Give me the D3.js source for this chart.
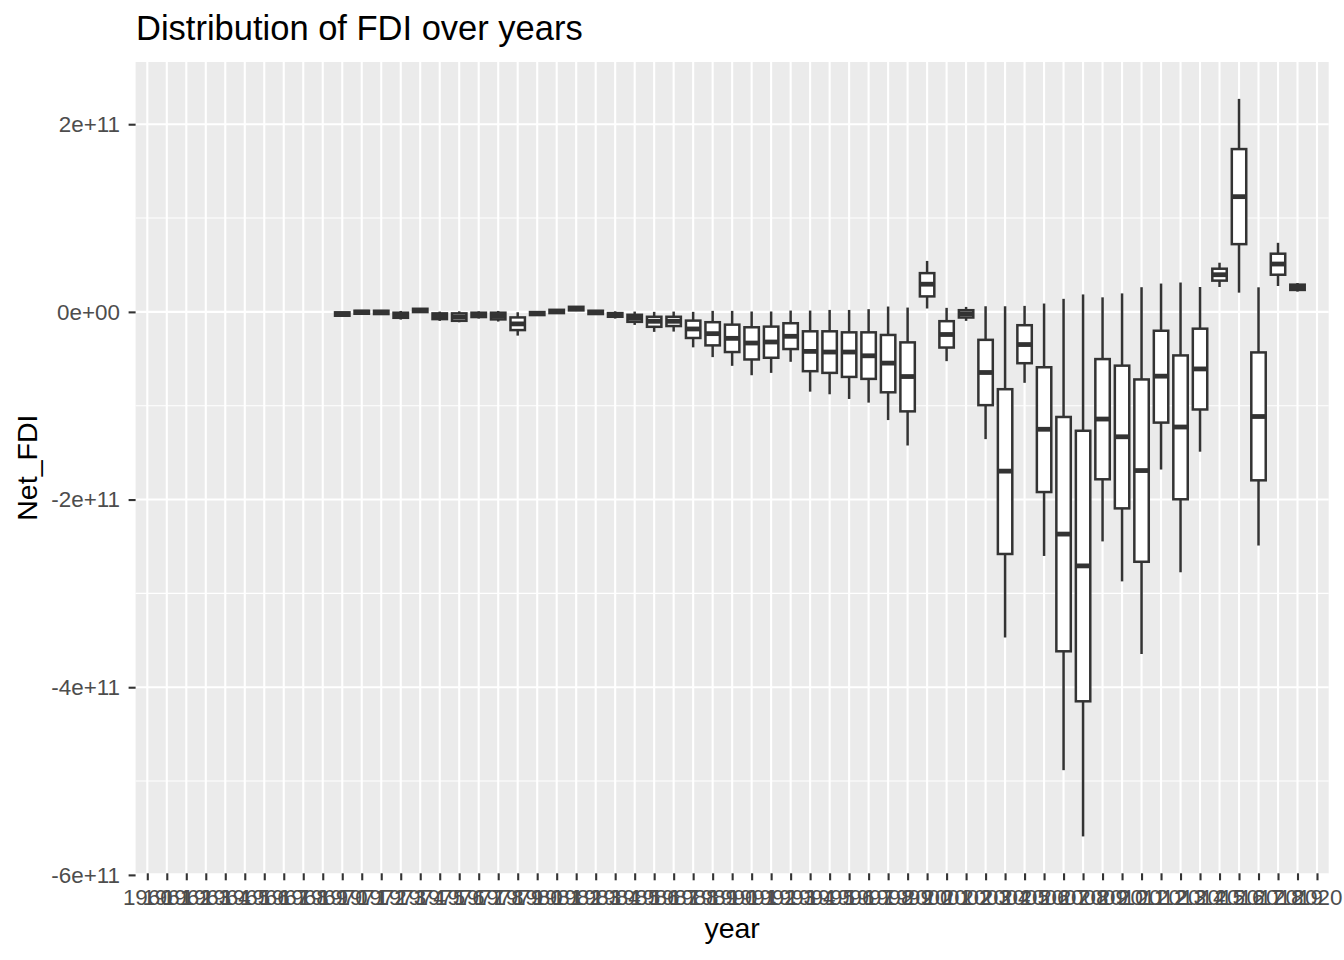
<!DOCTYPE html>
<html>

<head>
    <meta charset="utf-8">
    <style>
        body {
            margin: 0;
            background: #ffffff;
        }

        svg {
            display: block;
            font-family: 'Liberation Sans', Arial, sans-serif;
        }

        .tick text {
            font-size: 22.4px;
            fill: #4d4d4d;
        }

        .tick line {
            stroke: #333333;
            stroke-width: 2.1px;
        }

        .domain {
            display: none;
        }
    </style>
</head>

<body>
    <svg width="1344" height="960"></svg>

    <script src="https://d3js.org/d3.v7.min.js"></script>
    <script>
        // every year on the x axis (discrete)
        let years = ["1960", "1961", "1962", "1963", "1964", "1965", "1966", "1967", "1968", "1969",
            "1970", "1971", "1972", "1973", "1974", "1975", "1976", "1977", "1978", "1979",
            "1980", "1981", "1982", "1983", "1984", "1985", "1986", "1987", "1988", "1989",
            "1990", "1991", "1992", "1993", "1994", "1995", "1996", "1997", "1998", "1999",
            "2000", "2001", "2002", "2003", "2004", "2005", "2006", "2007", "2008", "2009",
            "2010", "2011", "2012", "2013", "2014", "2015", "2016", "2017", "2018", "2019", "2020"]

        // years that have a box, and the box stats in billions (1e9)
        let boxYears = ["1970", "1971", "1972", "1973", "1974", "1975", "1976", "1977", "1978", "1979",
            "1980", "1981", "1982", "1983", "1984", "1985", "1986", "1987", "1988", "1989",
            "1990", "1991", "1992", "1993", "1994", "1995", "1996", "1997", "1998", "1999",
            "2000", "2001", "2002", "2003", "2004", "2005", "2006", "2007", "2008", "2009",
            "2010", "2011", "2012", "2013", "2014", "2015", "2016", "2017", "2018", "2019"]

        let lowWhisker = [-4.3, -2.3, -2.5, -8.2, -0.5, -9.6, -11.1, -7.1, -10.3, -25.3,
            -3.6, -1.5, 1.4, -2.5, -7.1, -13.9, -21.3, -21.0, -37.8, -48.2,
            -57.5, -67.5, -65.0, -53.2, -85.0, -87.8, -92.8, -96.7, -115.3, -142.4,
            3.6, -52.5, -9.6, -135.6, -347.0, -75.6, -260.1, -488.4, -559.0, -244.6,
            -287.2, -364.6, -168.0, -277.5, -149.0, 26.5, 20.5, -249.0, 27.6, 21.6]

        let lowerQuartile = [-4.1, -2.0, -2.3, -6.3, -0.2, -7.7, -9.5, -5.5, -8.0, -19.4,
            -3.4, -1.3, 1.6, -2.3, -5.2, -10.6, -15.9, -15.1, -27.8, -35.7,
            -42.8, -50.7, -48.9, -39.6, -63.2, -65.0, -69.3, -71.4, -85.7, -106.0,
            16.5, -38.0, -6.0, -99.4, -258.0, -54.7, -192.0, -361.7, -415.0, -178.4,
            -209.4, -266.3, -118.0, -199.7, -104.0, 33.3, 72.2, -179.5, 39.6, 23.4]

        let medians = [-2.3, -0.4, -0.5, -3.6, 1.5, -4.6, -5.5, -3.2, -4.5, -12.8,
            -1.8, 0.5, 3.5, -0.5, -3.3, -6.8, -10.0, -10.0, -18.2, -23.2,
            -28.2, -33.2, -32.1, -26.0, -42.1, -42.8, -42.8, -46.8, -54.6, -68.9,
            29.5, -24.1, -2.1, -64.6, -169.7, -34.8, -125.1, -236.8, -270.7, -114.2,
            -133.1, -169.1, -68.5, -122.7, -60.8, 39.6, 122.8, -111.5, 51.0, 26.2]

        let upperQuartile = [-0.5, 1.2, 1.2, -0.9, 3.3, -1.6, -1.6, -0.9, -0.9, -5.9,
            -0.2, 2.2, 5.4, 1.2, -1.3, -3.1, -5.2, -5.2, -9.3, -11.0,
            -13.6, -16.4, -15.7, -12.1, -20.7, -20.7, -21.8, -21.8, -24.6, -32.5,
            41.3, -9.9, 1.8, -29.8, -82.4, -14.2, -59.0, -112.0, -126.7, -50.3,
            -57.3, -72.0, -20.1, -46.4, -17.9, 46.0, 173.5, -43.2, 62.0, 29.0]

        let highWhisker = [-0.3, 1.5, 1.4, 1.0, 3.6, 0.3, 0.6, 0.6, 1.0, -0.4,
            0.0, 2.4, 5.6, 1.4, 0.6, 0.3, 0.0, 0.3, 0.0, 1.1,
            1.1, 0.4, 0.4, 1.4, 1.4, 2.1, 2.1, 2.9, 5.7, 4.6,
            54.3, 4.3, 5.3, 6.0, 6.0, 6.4, 8.9, 13.9, 18.6, 15.5,
            19.7, 26.3, 30.2, 31.3, 26.5, 52.4, 227.0, 26.2, 73.6, 30.8]

        let yMajorTicks = [2e11, 0, -2e11, -4e11, -6e11]
        let yMinorTicks = [1e11, -1e11, -3e11, -5e11]

        let svg = d3.select("svg")

        let margin = { top: 62, right: 15.3, bottom: 86.7, left: 135.6 }
        let width = 1344
        let height = 960

        let boxes = boxYears.map(function (yr, i) {
            return {
                year: yr,
                lo: lowWhisker[i] * 1e9,
                q1: lowerQuartile[i] * 1e9,
                med: medians[i] * 1e9,
                q3: upperQuartile[i] * 1e9,
                hi: highWhisker[i] * 1e9
            }
        })

        let x = d3.scalePoint()
            .domain(years)
            .range([margin.left, width - margin.right])
            .padding(0.6)

        // ggplot style 5% expansion on the data range
        let yMin = d3.min(boxes, d => d.lo)
        let yMax = d3.max(boxes, d => d.hi)
        let pad = (yMax - yMin) * 0.05

        let y = d3.scaleLinear()
            .domain([yMin - pad, yMax + pad])
            .range([height - margin.bottom, margin.top])

        // panel
        svg.append("rect")
            .attr("x", margin.left)
            .attr("y", margin.top)
            .attr("width", width - margin.right - margin.left)
            .attr("height", height - margin.bottom - margin.top)
            .style("fill", "#ebebeb")

        let grid = svg.append("g")

        grid.selectAll(".minor")
            .data(yMinorTicks)
            .join("line")
            .attr("x1", margin.left)
            .attr("x2", width - margin.right)
            .attr("y1", d => y(d))
            .attr("y2", d => y(d))
            .style("stroke", "#ffffff")
            .style("stroke-width", "1.1px")

        grid.selectAll(".major")
            .data(yMajorTicks)
            .join("line")
            .attr("x1", margin.left)
            .attr("x2", width - margin.right)
            .attr("y1", d => y(d))
            .attr("y2", d => y(d))
            .style("stroke", "#ffffff")
            .style("stroke-width", "2.1px")

        grid.selectAll(".vert")
            .data(years)
            .join("line")
            .attr("x1", d => x(d))
            .attr("x2", d => x(d))
            .attr("y1", margin.top)
            .attr("y2", height - margin.bottom)
            .style("stroke", "#ffffff")
            .style("stroke-width", "2.1px")

        // axes
        let xAxisSettings = d3.axisBottom(x)
            .tickSize(7)
            .tickPadding(9)

        svg.append("g")
            .attr("class", "x axis")
            .attr("transform", `translate(0,${height - margin.bottom})`)
            .call(xAxisSettings)

        let yAxisSettings = d3.axisLeft(y)
            .tickValues(yMajorTicks)
            .tickSize(7)
            .tickPadding(8.6)
            .tickFormat(function (d) {
                if (d == 0) return "0e+00"
                let s = d3.format(".0e")(Math.abs(d))
                return (d < 0 ? "-" : "") + s
            })

        svg.append("g")
            .attr("class", "y axis")
            .attr("transform", `translate(${margin.left},0)`)
            .call(yAxisSettings)

        // boxplots
        let bw = x.step() * 0.74
        let boxG = svg.append("g")
            .selectAll("g")
            .data(boxes)
            .join("g")

        boxG.append("line")
            .attr("x1", d => x(d.year))
            .attr("x2", d => x(d.year))
            .attr("y1", d => y(d.q3))
            .attr("y2", d => y(d.hi))
            .style("stroke", "#333333")
            .style("stroke-width", "2.5px")

        boxG.append("line")
            .attr("x1", d => x(d.year))
            .attr("x2", d => x(d.year))
            .attr("y1", d => y(d.q1))
            .attr("y2", d => y(d.lo))
            .style("stroke", "#333333")
            .style("stroke-width", "2.5px")

        boxG.append("rect")
            .attr("x", d => x(d.year) - bw / 2)
            .attr("y", d => y(d.q3))
            .attr("width", bw)
            .attr("height", d => y(d.q1) - y(d.q3))
            .style("fill", "#ffffff")
            .style("stroke", "#333333")
            .style("stroke-width", "2.5px")

        boxG.append("line")
            .attr("x1", d => x(d.year) - bw / 2)
            .attr("x2", d => x(d.year) + bw / 2)
            .attr("y1", d => y(d.med))
            .attr("y2", d => y(d.med))
            .style("stroke", "#333333")
            .style("stroke-width", "4.8px")

        // titles
        svg.append("text")
            .attr("x", 136)
            .attr("y", 40)
            .text("Distribution of FDI over years")
            .style("font-size", "34.5px")
            .style("fill", "#000000")

        svg.append("text")
            .attr("x", (margin.left + width - margin.right) / 2)
            .attr("y", 938)
            .attr("text-anchor", "middle")
            .text("year")
            .style("font-size", "28.5px")
            .style("fill", "#000000")

        svg.append("text")
            .attr("transform", `translate(37,${(margin.top + height - margin.bottom) / 2}) rotate(-90)`)
            .attr("text-anchor", "middle")
            .text("Net_FDI")
            .style("font-size", "28.5px")
            .style("fill", "#000000")
    </script>
</body>

</html>
